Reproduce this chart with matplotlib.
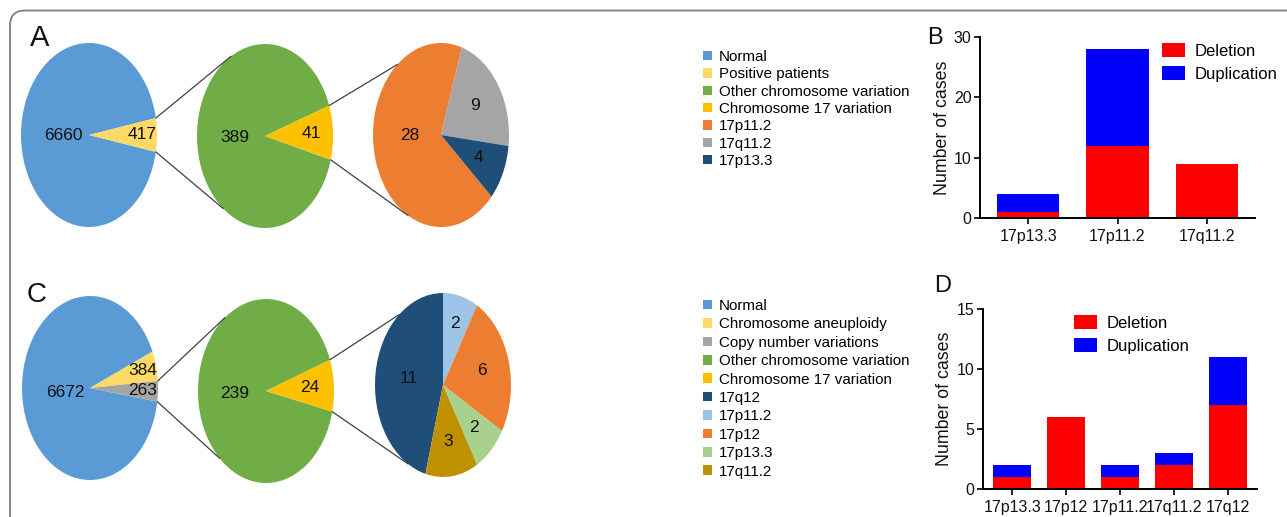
import numpy as np
import matplotlib
matplotlib.use('Agg')
import matplotlib.pyplot as plt
from matplotlib.patches import FancyBboxPatch, ConnectionPatch

plt.rcParams['font.family'] = ['Liberation Sans', 'DejaVu Sans']

# ---- data ----
# panel A
a_outer_labels = ['Normal', 'Positive patients']
a_outer_values = [6660, 417]
a_mid_labels = ['Other chromosome variation', 'Chromosome 17 variation']
a_mid_values = [389, 41]
a_inner_labels = ['17p11.2', '17q11.2', '17p13.3']
a_inner_values = [28, 9, 4]

# panel B
b_regions = ['17p13.3', '17p11.2', '17q11.2']
b_deletion = [1, 12, 9]
b_duplication = [3, 16, 0]

# panel C
c_outer_labels = ['Normal', 'Chromosome aneuploidy', 'Copy number variations']
c_outer_values = [6672, 384, 263]
c_mid_labels = ['Other chromosome variation', 'Chromosome 17 variation']
c_mid_values = [239, 24]
c_inner_labels = ['17q12', '17p11.2', '17p12', '17p13.3', '17q11.2']
c_inner_values = [11, 2, 6, 2, 3]

# panel D
d_regions = ['17p13.3', '17p12', '17p11.2', '17q11.2', '17q12']
d_deletion = [1, 6, 1, 2, 7]
d_duplication = [1, 0, 1, 1, 4]

# colours
BLUE = '#5B9BD5'
LYELLOW = '#FFD966'
GREEN = '#70AD47'
GOLD = '#FFC000'
ORANGE = '#ED7D31'
GREY = '#A5A5A5'
DBLUE = '#1F4E79'
LBLUE = '#9DC3E6'
LGREEN = '#A9D18E'
DGOLD = '#BF9000'

W, H = 1287, 517
fig = plt.figure(figsize=(W / 100, H / 100), dpi=100)


def px_axes(x, y, w, h):
    return fig.add_axes([x / W, 1 - (y + h) / H, w / W, h / H])


def draw_pie(cx, cy, values, colors, start, label_r, label_da=None):
    ax = px_axes(cx - 68, cy - 92, 136, 184)
    wedges, _ = ax.pie(values, colors=colors, startangle=start,
                       counterclock=False, radius=1,
                       wedgeprops=dict(linewidth=0))
    ax.set_aspect('auto')
    ax.set_xlim(-1, 1)
    ax.set_ylim(-1, 1)
    if label_da is None:
        label_da = [0] * len(values)
    for w, v, r, da in zip(wedges, values, label_r, label_da):
        mid = np.deg2rad((w.theta1 + w.theta2) / 2 + da)
        ax.text(r * np.cos(mid), r * np.sin(mid), str(v), ha='center',
                va='center', fontsize=12.5, color='#111111',
                family=['Liberation Sans Narrow', 'Liberation Sans'])
    return ax, wedges


def connect(ax1, ang1, ax2, ang2):
    a1, a2 = np.deg2rad(ang1), np.deg2rad(ang2)
    con = ConnectionPatch(xyA=(np.cos(a1), np.sin(a1)), coordsA='data', axesA=ax1,
                          xyB=(np.cos(a2), np.sin(a2)), coordsB='data', axesB=ax2,
                          color='#404040', lw=0.9)
    fig.add_artist(con)


def draw_bars(box, regions, dele, dup, ymax, yticks, label_x):
    ax = px_axes(*box)
    x = np.arange(len(regions))
    ax.bar(x, dele, width=0.7, color='#FF0000', label='Deletion')
    ax.bar(x, dup, width=0.7, bottom=dele, color='#0000FF', label='Duplication')
    ax.set_xlim(-0.54, len(regions) - 0.46)
    ax.set_ylim(0, ymax)
    ax.set_yticks(yticks)
    ax.set_xticks(x)
    ax.set_xticklabels(regions)
    for s in ['top', 'right']:
        ax.spines[s].set_visible(False)
    for s in ['left', 'bottom']:
        ax.spines[s].set_linewidth(1.4)
    ax.tick_params(axis='both', length=4, width=1.3, labelsize=11.5, colors='#111111')
    ax.tick_params(axis='y', pad=2)
    ax.tick_params(axis='x', pad=4)
    ax.set_ylabel('Number of cases', fontsize=12.8, color='#111111')
    ax.yaxis.set_label_coords(label_x, 0.5)
    return ax


# outer rounded frame
frame = FancyBboxPatch((0.10, -0.5), 14.0, 5.17 - 0.105 + 0.5,
                       boxstyle='round,pad=0,rounding_size=0.15',
                       transform=fig.dpi_scale_trans, fill=False,
                       edgecolor='#7f7f7f', lw=1.3, clip_on=False)
fig.add_artist(frame)

# ---- panel A ----
axA1, wA1 = draw_pie(89, 135, a_outer_values, [BLUE, LYELLOW], -10.6, [0.37, 0.78])
axA2, wA2 = draw_pie(265, 136, a_mid_values, [GREEN, GOLD], -15, [0.44, 0.68])
axA3, wA3 = draw_pie(441, 135, a_inner_values, [ORANGE, GREY, DBLUE], 318,
                     [0.46, 0.59, 0.6], [-15, 0, 0])
connect(axA1, wA1[1].theta2, axA2, 120)
connect(axA1, wA1[1].theta1, axA2, 232)
connect(axA2, wA2[1].theta2, axA3, 130)
connect(axA2, wA2[1].theta1, axA3, 241)

fig.legend(list(wA1) + list(wA2) + list(wA3),
           a_outer_labels + a_mid_labels + a_inner_labels,
           loc='upper left', bbox_to_anchor=(703 / W, 1 - 50 / H),
           frameon=False, fontsize=10.9, handlelength=0.6, handleheight=0.6,
           handletextpad=0.45, labelspacing=0.22, borderpad=0, borderaxespad=0)

# ---- panel C ----
axC1, wC1 = draw_pie(90, 388, c_outer_values, [BLUE, LYELLOW, GREY], -8.5, [0.37, 0.8, 0.78])
axC2, wC2 = draw_pie(266, 391, c_mid_values, [GREEN, GOLD], -13, [0.46, 0.65])
axC3, wC3 = draw_pie(443, 385, c_inner_values, [DBLUE, LBLUE, ORANGE, LGREEN, DGOLD], 255,
                     [0.51, 0.69, 0.6, 0.65, 0.62])
connect(axC1, wC1[2].theta2, axC2, 127)
connect(axC1, wC1[2].theta1, axC2, 227)
connect(axC2, wC2[1].theta2, axC3, 130)
connect(axC2, wC2[1].theta1, axC3, 239)

fig.legend(list(wC1) + list(wC2) + list(wC3),
           c_outer_labels + c_mid_labels + c_inner_labels,
           loc='upper left', bbox_to_anchor=(703 / W, 1 - 299 / H),
           frameon=False, fontsize=10.9, handlelength=0.6, handleheight=0.6,
           handletextpad=0.45, labelspacing=0.29, borderpad=0, borderaxespad=0)

# ---- panel B ----
axB = draw_bars((980, 37, 275, 181), b_regions, b_deletion, b_duplication,
                30, [0, 10, 20, 30], -0.105)
axB.legend(loc='upper left', bbox_to_anchor=((1162 - 980) / 275, 0.965),
           frameon=False, fontsize=12, handlelength=1.35, handleheight=0.85,
           handletextpad=0.6, labelspacing=0.45, borderpad=0, borderaxespad=0)

# ---- panel D ----
axD = draw_bars((983, 309, 274, 180), d_regions, d_deletion, d_duplication,
                15, [0, 5, 10, 15], -0.109)
axD.legend(loc='upper left', bbox_to_anchor=((1074 - 983) / 274, 0.965),
           frameon=False, fontsize=12, handlelength=1.35, handleheight=0.85,
           handletextpad=0.6, labelspacing=0.45, borderpad=0, borderaxespad=0)

# panel letters
for letter, x, y, fs in [('A', 40, 38, 21), ('C', 37, 295, 20),
                         ('B', 935, 38, 17), ('D', 943, 286, 17)]:
    fig.text(x / W, 1 - y / H, letter, ha='center', va='center', fontsize=fs, color='#111111')

fig.savefig('out.png', dpi=100)
